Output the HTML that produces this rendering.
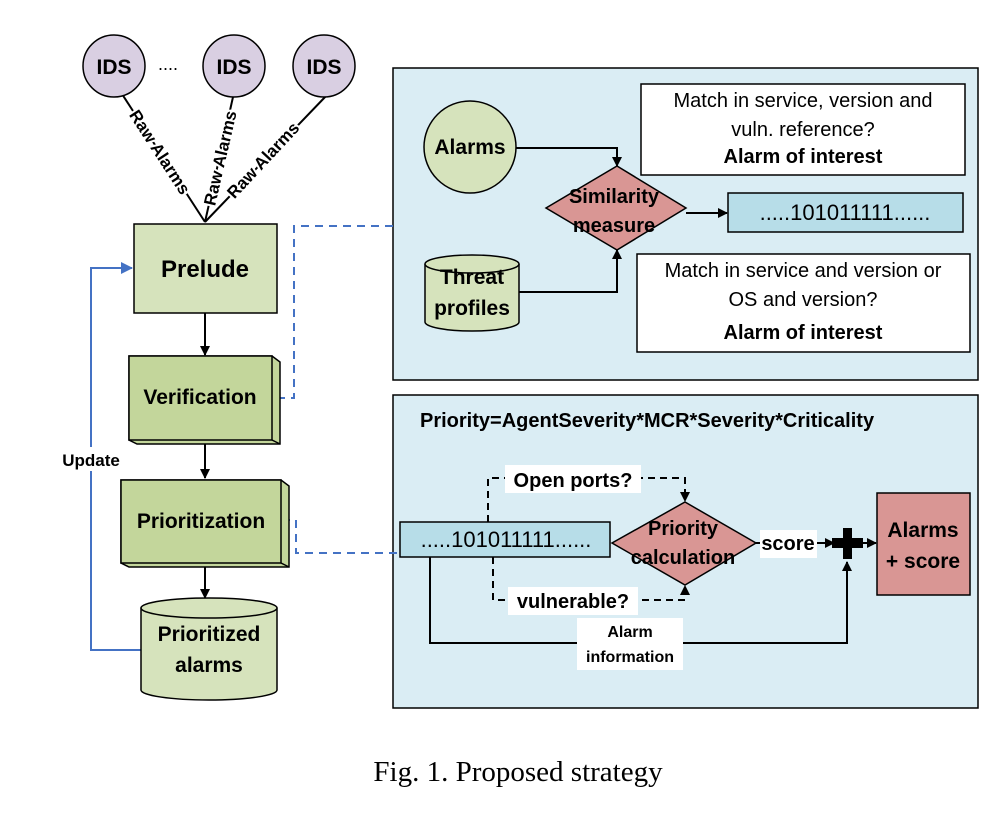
<!DOCTYPE html>
<html><head><meta charset="utf-8"><style>
body{margin:0;background:#fff}
text{font-family:"Liberation Sans",sans-serif}
.b{font-weight:bold}
</style></head><body>
<svg width="1005" height="833" viewBox="0 0 1005 833" xmlns="http://www.w3.org/2000/svg">
<defs>
<marker id="a" markerWidth="10" markerHeight="10" refX="9" refY="5" orient="auto" markerUnits="userSpaceOnUse"><path d="M0,0 L10,5 L0,10z" fill="#000"/></marker>
<marker id="ab" markerWidth="12" markerHeight="12" refX="11" refY="6" orient="auto" markerUnits="userSpaceOnUse"><path d="M0,0 L12,6 L0,12z" fill="#4472c4"/></marker>
</defs>
<rect x="393" y="68" width="585" height="312" fill="#daedf4" stroke="#000" stroke-width="1.5"/>
<rect x="393" y="395" width="585" height="313" fill="#daedf4" stroke="#000" stroke-width="1.5"/>

<g stroke="#000" stroke-width="2">
<line x1="122" y1="94" x2="205" y2="222"/>
<line x1="233" y1="97" x2="205" y2="222"/>
<line x1="327" y1="95" x2="205" y2="222"/>
</g>
<g fill="#d9cfe2" stroke="#000" stroke-width="1.5">
<circle cx="114" cy="66" r="31"/><circle cx="234" cy="66" r="31"/><circle cx="324" cy="66" r="31"/>
</g>
<g font-size="21" text-anchor="middle">
<text x="114" y="74" class="b">IDS</text><text x="234" y="74" class="b">IDS</text><text x="324" y="74" class="b">IDS</text>
</g>
<text x="168" y="70" font-size="18" text-anchor="middle">....</text>
<g font-size="17" font-weight="bold" text-anchor="middle">
<text transform="translate(160,152) rotate(57)" x="0" y="6" stroke="#fff" stroke-width="4" paint-order="stroke">Raw Alarms</text>
<text transform="translate(220,158) rotate(-77)" x="0" y="6" stroke="#fff" stroke-width="4" paint-order="stroke">Raw Alarms</text>
<text transform="translate(263,160) rotate(-47)" x="0" y="6" stroke="#fff" stroke-width="4" paint-order="stroke">Raw Alarms</text>
</g>

<polyline points="141,650 91,650 91,268 132,268" fill="none" stroke="#4472c4" stroke-width="2" marker-end="url(#ab)"/>
<rect x="52" y="447" width="78" height="24" fill="#fff"/>
<text x="91" y="466" font-size="17" class="b" text-anchor="middle">Update</text>
<polyline points="277,398 294,398 294,226 393,226" fill="none" stroke="#4472c4" stroke-width="2" stroke-dasharray="8,6"/>
<polyline points="282,520 296,520 296,553 400,553" fill="none" stroke="#4472c4" stroke-width="2" stroke-dasharray="8,6"/>

<rect x="134" y="224" width="143" height="89" fill="#d6e3bc" stroke="#000" stroke-width="1.5"/>
<text x="205" y="277" font-size="24" class="b" text-anchor="middle">Prelude</text>
<g stroke="#000" stroke-width="2">
<line x1="205" y1="313" x2="205" y2="355" marker-end="url(#a)"/>
<line x1="205" y1="442" x2="205" y2="478" marker-end="url(#a)"/>
<line x1="205" y1="565" x2="205" y2="598" marker-end="url(#a)"/>
</g>
<polygon points="129,356 272,356 280,362 280,444 137,444 129,440" fill="#c3d69b" stroke="#000" stroke-width="1.5"/>
<line x1="272" y1="440" x2="280" y2="444" stroke="#000" stroke-width="1.5"/>
<rect x="129" y="356" width="143" height="84" fill="#c3d69b" stroke="#000" stroke-width="1.5"/>
<text x="200" y="404" font-size="21" class="b" text-anchor="middle">Verification</text>
<polygon points="121,480 281,480 289,486 289,567 129,567 121,563" fill="#c3d69b" stroke="#000" stroke-width="1.5"/>
<line x1="281" y1="563" x2="289" y2="567" stroke="#000" stroke-width="1.5"/>
<rect x="121" y="480" width="160" height="83" fill="#c3d69b" stroke="#000" stroke-width="1.5"/>
<text x="201" y="528" font-size="21" class="b" text-anchor="middle">Prioritization</text>
<path d="M141,608 L141,690 A68,10 0 0 0 277,690 L277,608" fill="#d6e3bc" stroke="#000" stroke-width="1.5"/>
<ellipse cx="209" cy="608" rx="68" ry="10" fill="#d6e3bc" stroke="#000" stroke-width="1.5"/>
<text x="209" y="641" font-size="21" class="b" text-anchor="middle">Prioritized</text>
<text x="209" y="672" font-size="21" class="b" text-anchor="middle">alarms</text>

<circle cx="470" cy="147" r="46" fill="#d6e3bc" stroke="#000" stroke-width="1.5"/>
<text x="470" y="154" font-size="21" class="b" text-anchor="middle">Alarms</text>
<path d="M425,264 L425,322 A47,9 0 0 0 519,322 L519,264" fill="#d6e3bc" stroke="#000" stroke-width="1.5"/>
<ellipse cx="472" cy="264" rx="47" ry="9" fill="#d6e3bc" stroke="#000" stroke-width="1.5"/>
<text x="472" y="284" font-size="21" class="b" text-anchor="middle">Threat</text>
<text x="472" y="315" font-size="21" class="b" text-anchor="middle">profiles</text>
<g stroke="#000" stroke-width="2" fill="none">
<polyline points="516,148 617,148 617,166" marker-end="url(#a)"/>
<polyline points="519,292 617,292 617,250" marker-end="url(#a)"/>
<line x1="686" y1="213" x2="727" y2="213" marker-end="url(#a)"/>
</g>
<polygon points="617,166 686,208 617,250 546,208" fill="#d99694" stroke="#000" stroke-width="1.5"/>
<text x="614" y="203" font-size="20" class="b" text-anchor="middle">Similarity</text>
<text x="614" y="232" font-size="20" class="b" text-anchor="middle">measure</text>
<rect x="728" y="193" width="235" height="39" fill="#b7dde8" stroke="#000" stroke-width="1.5"/>
<text x="845" y="220" font-size="22" text-anchor="middle">.....101011111......</text>
<rect x="641" y="84" width="324" height="91" fill="#fff" stroke="#000" stroke-width="1.5"/>
<text x="803" y="107" font-size="20" text-anchor="middle">Match in service, version and</text>
<text x="803" y="136" font-size="20" text-anchor="middle">vuln. reference?</text>
<text x="803" y="163" font-size="20" class="b" text-anchor="middle">Alarm of interest</text>
<rect x="637" y="254" width="333" height="98" fill="#fff" stroke="#000" stroke-width="1.5"/>
<text x="803" y="277" font-size="20" text-anchor="middle">Match in service and version or</text>
<text x="803" y="306" font-size="20" text-anchor="middle">OS and version?</text>
<text x="803" y="339" font-size="20" class="b" text-anchor="middle">Alarm of interest</text>

<text x="420" y="427" font-size="20" class="b">Priority=AgentSeverity*MCR*Severity*Criticality</text>
<g stroke="#000" stroke-width="2" fill="none">
<polyline points="488,522 488,478 685,478 685,501" stroke-dasharray="7,5" marker-end="url(#a)"/>
<polyline points="493,557 493,600 685,600 685,586" stroke-dasharray="7,5" marker-end="url(#a)"/>
<polyline points="430,557 430,643 847,643 847,562" marker-end="url(#a)"/>
<line x1="756" y1="543" x2="834" y2="543" marker-end="url(#a)"/>
<line x1="860" y1="543" x2="876" y2="543" marker-end="url(#a)"/>
</g>
<rect x="400" y="522" width="210" height="35" fill="#b7dde8" stroke="#000" stroke-width="1.5"/>
<text x="506" y="547" font-size="22" text-anchor="middle">.....101011111......</text>
<polygon points="685,502 756,543 685,585 612,543" fill="#d99694" stroke="#000" stroke-width="1.5"/>
<text x="683" y="535" font-size="20" class="b" text-anchor="middle">Priority</text>
<text x="683" y="564" font-size="20" class="b" text-anchor="middle">calculation</text>
<rect x="505" y="465" width="136" height="28" fill="#fff"/>
<text x="573" y="487" font-size="20" class="b" text-anchor="middle">Open ports?</text>
<rect x="508" y="587" width="130" height="28" fill="#fff"/>
<text x="573" y="608" font-size="20" class="b" text-anchor="middle">vulnerable?</text>
<rect x="760" y="530" width="57" height="28" fill="#fff"/>
<text x="788" y="550" font-size="20" class="b" text-anchor="middle">score</text>
<rect x="577" y="618" width="106" height="52" fill="#fff"/>
<text x="630" y="637" font-size="16" class="b" text-anchor="middle">Alarm</text>
<text x="630" y="662" font-size="16" class="b" text-anchor="middle">information</text>
<rect x="843" y="528" width="9" height="31" fill="#000"/>
<rect x="832" y="538" width="31" height="10" fill="#000"/>
<rect x="877" y="493" width="93" height="102" fill="#d99694" stroke="#000" stroke-width="1.5"/>
<text x="923" y="537" font-size="21" class="b" text-anchor="middle">Alarms</text>
<text x="923" y="568" font-size="21" class="b" text-anchor="middle">+ score</text>

<text x="518" y="781" font-size="29" text-anchor="middle" style="font-family:'Liberation Serif',serif">Fig. 1.  Proposed strategy</text>
</svg>
</body></html>
